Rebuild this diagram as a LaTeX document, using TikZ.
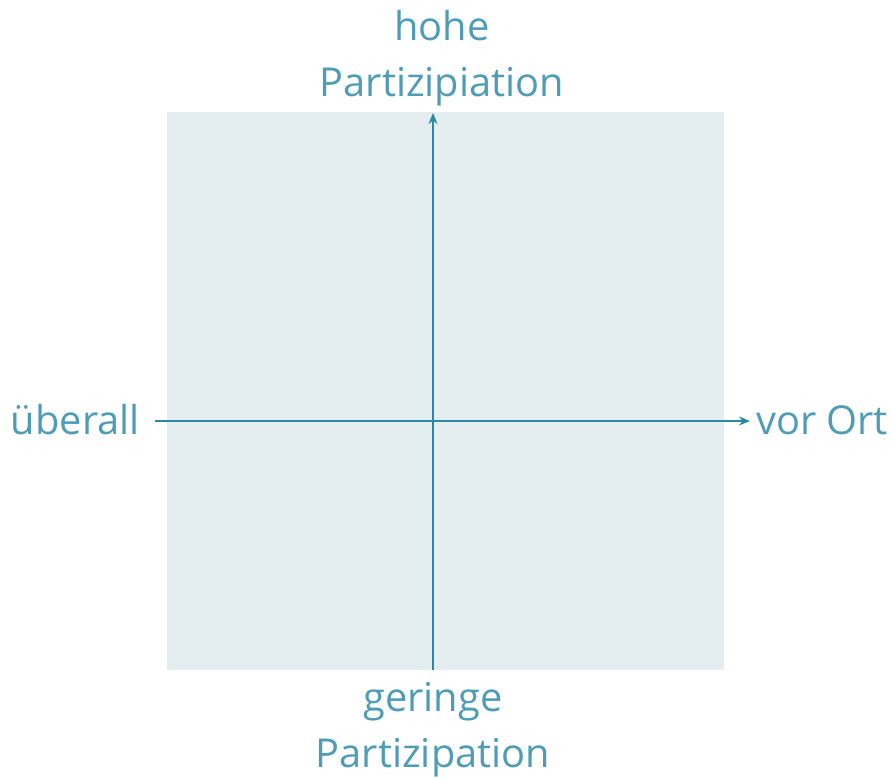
\documentclass[tikz,border=0pt]{standalone}
\usepackage{fontspec}
\setmainfont{Open Sans}
\usetikzlibrary{arrows.meta}
\definecolor{txtc}{HTML}{4E9CB5}
\definecolor{axisc}{HTML}{2B88A6}
\definecolor{bgc}{HTML}{E4EDF0}
\tikzset{
  lbl/.style={text=txtc, font=\fontsize{39.8}{47}\selectfont, inner sep=0pt},
  axisline/.style={draw=axisc, line width=2.4pt, -{Stealth[length=11pt,width=9pt]}}
}
\begin{document}
\begin{tikzpicture}[x=1pt,y=-1pt]
\useasboundingbox (0,0) rectangle (892,777);
\fill[bgc] (167,112) rectangle (724,670);
\coordinate (vb) at (433,670);
\coordinate (vt) at (433,113);
\coordinate (hl) at (155,421);
\coordinate (hr) at (750,421);
\draw[axisline] (vb) -- (vt);
\draw[axisline] (hl) -- (hr);
\node[lbl, anchor=base] (hohe) at (442,40) {hohe};
\node[lbl, anchor=base] (parthigh) at (442,96) {Partizipiation};
\node[lbl, anchor=base] (ger) at (433,711) {geringe};
\node[lbl, anchor=base] (partlow) at (433,767) {Partizipation};
\node[lbl, anchor=base east] (ueb) at (140,434) {überall};
\node[lbl, anchor=base west] (vor) at (756,434) {vor Ort};
\end{tikzpicture}
\end{document}
